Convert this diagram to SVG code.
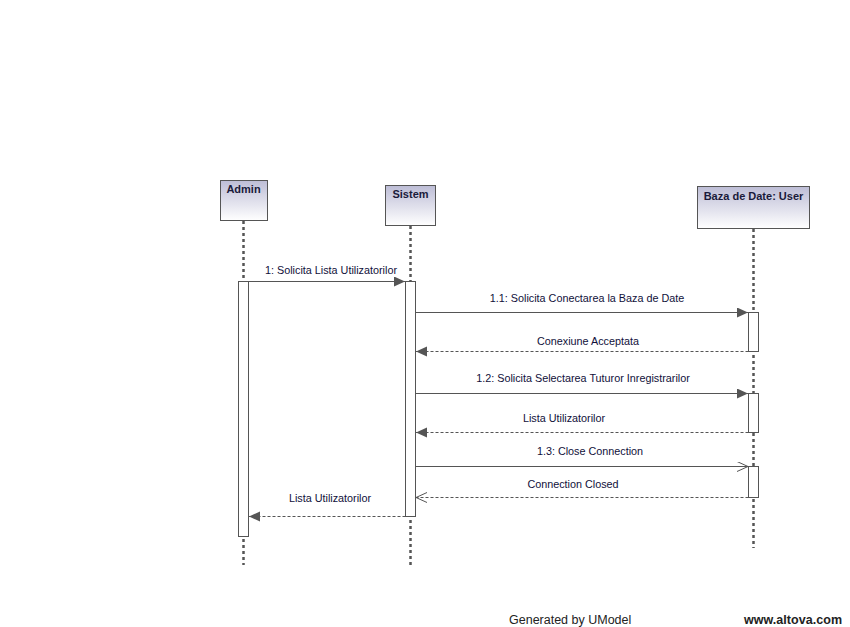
<svg xmlns="http://www.w3.org/2000/svg" width="850" height="627" viewBox="0 0 850 627">
<style>
.hdr{stroke:#555;stroke-width:1;fill:url(#g)}
.hdrt{font-family:"Liberation Sans",Arial,sans-serif;font-size:11px;font-weight:bold;fill:#1a1a3a;text-anchor:middle}
.life{stroke:#555;stroke-width:2.5;stroke-dasharray:3,3;fill:none}
.act{fill:#fff;stroke:#555;stroke-width:1}
.msg{stroke:#555;stroke-width:1;fill:none}
.ret{stroke:#555;stroke-width:1;fill:none;stroke-dasharray:3,2}
.lbl{font-family:"Liberation Sans",Arial,sans-serif;font-size:10.8px;fill:#10103a;text-anchor:middle}
.foot{font-family:"Liberation Sans",Arial,sans-serif;font-size:12.5px;fill:#222}
</style>
<defs>
<linearGradient id="g" x1="0" y1="0" x2="0" y2="1">
<stop offset="0" stop-color="#bdbdd6"/>
<stop offset="1" stop-color="#ffffff"/>
</linearGradient>
<marker id="fa" markerWidth="12" markerHeight="12" refX="11" refY="5" orient="auto" markerUnits="userSpaceOnUse">
<path d="M0,0 L11,5 L0,10 Z" fill="#555"/>
</marker>
<marker id="oa" markerWidth="12" markerHeight="12" refX="11" refY="5" orient="auto" markerUnits="userSpaceOnUse">
<path d="M0,0 L11,5 L0,10" fill="none" stroke="#555" stroke-width="1"/>
</marker>
</defs>
<rect width="850" height="627" fill="#fff"/>

<g id="admin">
<line class="life" x1="243.5" y1="221" x2="243.5" y2="565"/>
<rect class="hdr" x="220.5" y="180.5" width="47" height="40"/>
<text class="hdrt" x="243.5" y="193">Admin</text>
<rect class="act" x="238.5" y="281.5" width="10" height="255"/>
</g>

<g id="sistem">
<line class="life" x1="410.5" y1="226" x2="410.5" y2="565"/>
<rect class="hdr" x="385.5" y="185.5" width="50" height="40"/>
<text class="hdrt" x="410.5" y="198">Sistem</text>
<rect class="act" x="405.5" y="281.5" width="10" height="235"/>
</g>

<g id="baza">
<line class="life" x1="753.5" y1="229" x2="753.5" y2="548"/>
<rect class="hdr" x="697.5" y="186.5" width="112" height="42"/>
<text class="hdrt" x="753.5" y="200">Baza de Date: User</text>
<rect class="act" x="748.5" y="312.5" width="10" height="39"/>
<rect class="act" x="748.5" y="393.5" width="10" height="39"/>
<rect class="act" x="748.5" y="466.5" width="10" height="31"/>
</g>

<g id="connectors">
<line class="msg" x1="248.5" y1="281.5" x2="405" y2="281.5" marker-end="url(#fa)"/>
<text class="lbl" x="331" y="274">1: Solicita Lista Utilizatorilor</text>

<line class="msg" x1="415.5" y1="312.5" x2="748" y2="312.5" marker-end="url(#fa)"/>
<text class="lbl" x="587" y="302">1.1: Solicita Conectarea la Baza de Date</text>

<line class="ret" x1="748.5" y1="351.5" x2="416" y2="351.5" marker-end="url(#fa)"/>
<text class="lbl" x="588" y="345">Conexiune Acceptata</text>

<line class="msg" x1="415.5" y1="393.5" x2="748" y2="393.5" marker-end="url(#fa)"/>
<text class="lbl" x="583" y="382">1.2: Solicita Selectarea Tuturor Inregistrarilor</text>

<line class="ret" x1="748.5" y1="432.5" x2="416" y2="432.5" marker-end="url(#fa)"/>
<text class="lbl" x="564" y="422">Lista Utilizatorilor</text>

<line class="msg" x1="415.5" y1="466.5" x2="748" y2="466.5" marker-end="url(#oa)"/>
<text class="lbl" x="590" y="455">1.3: Close Connection</text>

<line class="ret" x1="748.5" y1="497.5" x2="416" y2="497.5" marker-end="url(#oa)"/>
<text class="lbl" x="573" y="488">Connection Closed</text>

<line class="ret" x1="405.5" y1="516.5" x2="249" y2="516.5" marker-end="url(#fa)"/>
<text class="lbl" x="330" y="502">Lista Utilizatorilor</text>
</g>

<text class="foot" x="509" y="624">Generated by UModel</text>
<text class="foot" x="744" y="624" font-weight="bold" textLength="98">www.altova.com</text>
</svg>
